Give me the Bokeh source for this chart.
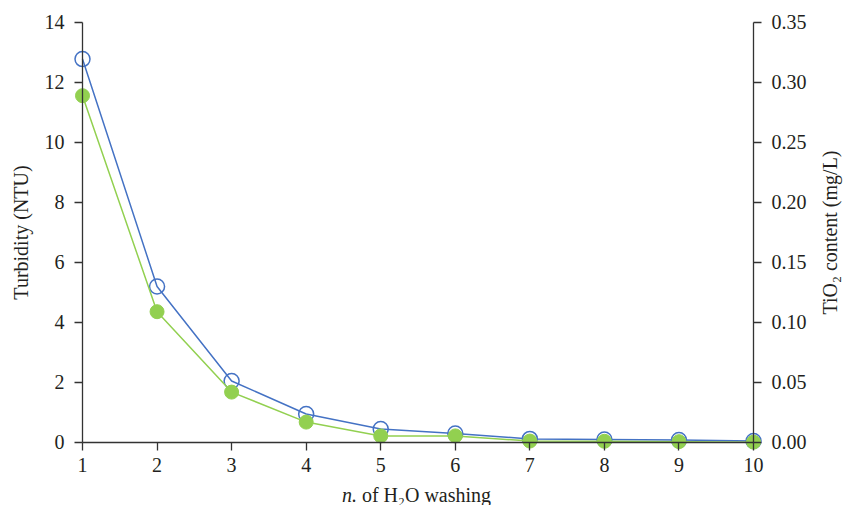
from bokeh.plotting import figure
from bokeh.models import LinearAxis, Range1d, FixedTicker, NumeralTickFormatter, Label
from bokeh.embed import file_html
from bokeh.resources import INLINE

washes = [1, 2, 3, 4, 5, 6, 7, 8, 9, 10]
turbidity = [12.78, 5.2, 2.05, 0.95, 0.45, 0.3, 0.12, 0.1, 0.08, 0.05]
tio2 = [0.289, 0.109, 0.042, 0.017, 0.0055, 0.0055, 0.0012, 0.001, 0.0007, 0.0003]
left_ticks = [0, 2, 4, 6, 8, 10, 12, 14]
right_ticks = [0.0, 0.05, 0.10, 0.15, 0.20, 0.25, 0.30, 0.35]

FONT = "Liberation Serif"
FS = "20px"
TXT = "#231f20"
AX = "#333333"
BLUE = "#4472C4"
GREEN = "#92D050"

# the frame fills the whole canvas; axes are pinned to x=1, x=10 and y=0
Y0, Y1 = -2.1, 14.733
p = figure(width=845, height=505, output_backend="svg", toolbar_location=None,
           x_range=Range1d(-0.0998, 11.2335), y_range=Range1d(Y0, Y1),
           x_axis_location=None, y_axis_location=None,
           min_border_left=0, min_border_right=0, min_border_top=0, min_border_bottom=0)
p.outline_line_color = None
p.xgrid.visible = False
p.ygrid.visible = False
p.extra_y_ranges = {"right": Range1d(Y0 * 0.025, Y1 * 0.025)}


def style(ax):
    ax.axis_line_color = AX
    ax.axis_line_width = 1.3
    ax.major_tick_line_color = AX
    ax.major_tick_line_width = 1.3
    ax.minor_tick_line_color = None
    ax.major_tick_in = 0
    ax.major_tick_out = 8
    ax.major_label_text_font = FONT
    ax.major_label_text_font_size = FS
    ax.major_label_text_color = TXT
    ax.axis_label_text_font = FONT
    ax.axis_label_text_font_size = FS
    ax.axis_label_text_font_style = "normal"
    ax.axis_label_text_color = TXT


left = LinearAxis(ticker=FixedTicker(ticks=left_ticks), axis_label="Turbidity (NTU)",
                  fixed_location=1, bounds=(0, 14))
style(left)
left.major_label_standoff = 10
left.axis_label_standoff = 10
p.add_layout(left, "left")

right = LinearAxis(y_range_name="right", ticker=FixedTicker(ticks=right_ticks),
                   fixed_location=10, bounds=(0, 0.35),
                   formatter=NumeralTickFormatter(format="0.00"))
style(right)
right.major_label_standoff = 10
p.add_layout(right, "right")

bottom = LinearAxis(ticker=FixedTicker(ticks=washes), fixed_location=0, bounds=(1, 10))
style(bottom)
bottom.major_label_standoff = 8
p.add_layout(bottom, "below")

# right axis title (reads bottom-to-top) and the bottom title with italic "n."
p.add_layout(Label(x=11.03, y=7, text="TiO₂ content (mg/L)", angle=90, angle_units="deg",
                   text_align="center", text_baseline="middle", text_font=FONT,
                   text_font_size=FS, text_color=TXT))
p.add_layout(Label(x=4.68, y=-1.75, text="n.", text_align="right", text_baseline="alphabetic",
                   text_font=FONT, text_font_size=FS, text_font_style="italic", text_color=TXT))
p.add_layout(Label(x=4.68, y=-1.75, x_offset=5, text="of H₂O washing", text_align="left",
                   text_baseline="alphabetic", text_font=FONT, text_font_size=FS,
                   text_color=TXT))

p.line(washes, turbidity, line_color=BLUE, line_width=1.5)
p.scatter(washes, turbidity, size=15, marker="circle", fill_color=None,
          line_color=BLUE, line_width=1.5)
p.line(washes, tio2, y_range_name="right", line_color=GREEN, line_width=1.5)
p.scatter(washes, tio2, y_range_name="right", size=14, marker="circle",
          fill_color=GREEN, line_color=GREEN)

open("out.html", "w").write(file_html(p, INLINE))
